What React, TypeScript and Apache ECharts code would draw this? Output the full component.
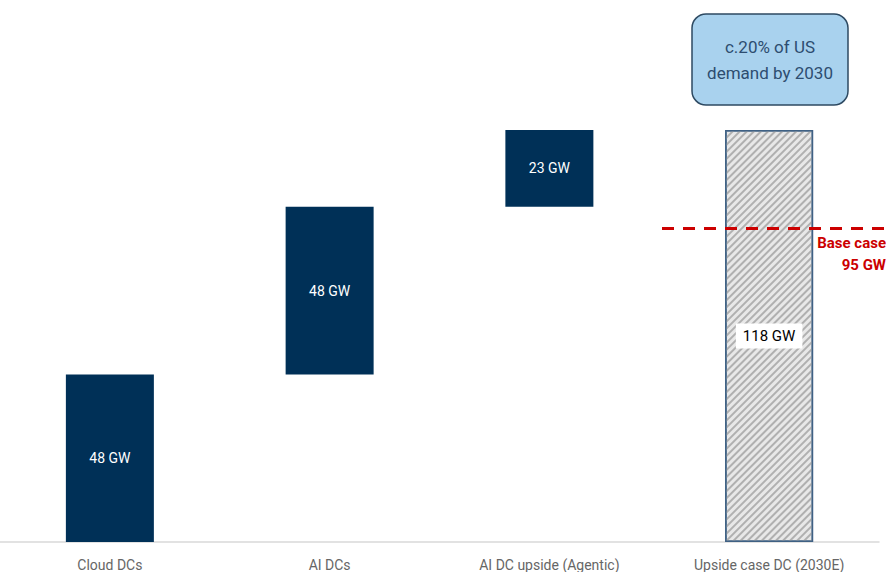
import React, { useEffect, useRef } from "react";
import * as echarts from "echarts";

const categories = ["Cloud DCs", "AI DCs", "AI DC upside (Agentic)", "Upside case DC (2030E)"];
const baseValues = [0, 48, 96, 0];
const stepValues = [48, 48, 23, 118];
const baseCaseLine = 90; // drawn position
const baseCaseLabel = "Base case\n95 GW";
const calloutText = "c.20% of US\ndemand by 2030";

const FONT = "Roboto, sans-serif";

export default function App() {
  const ref = useRef<HTMLDivElement>(null);
  useEffect(() => {
    if (!ref.current) return;
    const chart = echarts.init(ref.current, undefined, { renderer: "svg" });
    const last = stepValues.length - 1;
    chart.setOption({
      animation: false,
      backgroundColor: "#ffffff",
      textStyle: { fontFamily: FONT },
      grid: { left: -2, right: 7, top: 130, bottom: 29, containLabel: false },
      xAxis: {
        type: "category",
        data: categories,
        axisLine: { show: true, lineStyle: { color: "#d9d9d9", width: 1.5 } },
        axisTick: { show: false },
        axisLabel: { color: "#666666", fontSize: 14, margin: 16, fontFamily: FONT },
        splitLine: { show: false },
      },
      yAxis: { type: "value", min: 0, max: 118, show: false },
      series: [
        {
          type: "bar",
          stack: "w",
          data: baseValues,
          barWidth: 88,
          itemStyle: { color: "transparent" },
          silent: true,
        },
        {
          type: "bar",
          stack: "w",
          barWidth: 88,
          data: stepValues.map((v, i) =>
            i === last
              ? {
                  value: v,
                  itemStyle: {
                    color: "#e8e8e8",
                    borderColor: "#3f6184",
                    borderWidth: 1.5,
                    decal: {
                      symbol: "rect",
                      symbolSize: 1,
                      dashArrayX: [1, 0],
                      dashArrayY: [1.5, 2.5],
                      rotation: -Math.PI / 4,
                      color: "#b0b0b0",
                    },
                  },
                  label: {
                    color: "#000000",
                    backgroundColor: "#ffffff",
                    padding: [5, 7],
                    fontSize: 15,
                  },
                }
              : { value: v }
          ),
          itemStyle: { color: "#003057" },
          label: {
            show: true,
            position: "inside",
            color: "#ffffff",
            fontSize: 14,
            fontFamily: FONT,
            formatter: (p: any) => `${p.value} GW`,
          },
          markLine: {
            silent: true,
            symbol: ["none", "none"],
            lineStyle: { color: "#cc0000", type: [12, 9], width: 3 },
            label: {
              show: true,
              position: "insideEndBottom",
              formatter: baseCaseLabel,
              color: "#cc0000",
              fontWeight: "bold",
              fontSize: 15,
              lineHeight: 22,
              fontFamily: FONT,
              distance: [0, 4],
            },
            data: [[{ x: 662, yAxis: baseCaseLine }, { x: 886, yAxis: baseCaseLine }]],
          },
        },
      ],
      graphic: [
        {
          type: "rect",
          shape: { x: 692, y: 14, width: 156, height: 91, r: 14 },
          style: { fill: "#a9d2ee", stroke: "#2e4a62", lineWidth: 1.5 },
        },
        {
          type: "text",
          x: 770,
          y: 60,
          style: {
            text: calloutText,
            fill: "#2d4d70",
            font: `17px ${FONT}`,
            align: "center",
            verticalAlign: "middle",
            lineHeight: 26,
          },
        },
      ],
    });
    return () => chart.dispose();
  }, []);
  return <div ref={ref} style={{ position: "absolute", left: 0, top: 0, width: 886, height: 572 }} />;
}
